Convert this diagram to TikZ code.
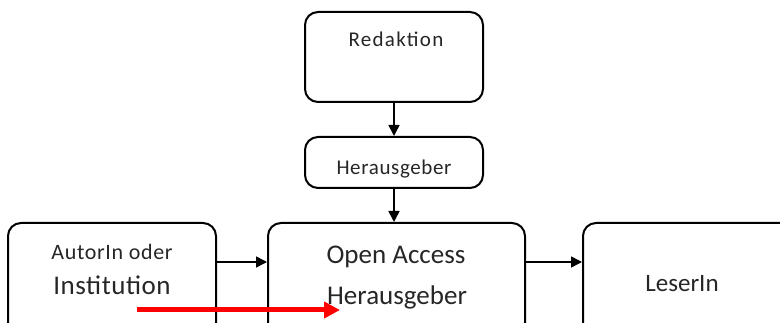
\documentclass[tikz,border=0pt]{standalone}
\usepackage{fontspec}
\setmainfont{Carlito}
\usetikzlibrary{arrows.meta}
\begin{document}
\begin{tikzpicture}[x=1pt,y=-1pt,
  box/.style={draw=black,line width=2pt,rounded corners=13pt,inner sep=0pt},
  lbl/.style={anchor=base,inner sep=0pt,text=black!85},
  conn/.style={line width=1.6pt,-{Triangle[length=11pt,width=11pt]}},
  redarrow/.style={draw=red,line width=5pt,-{Triangle[length=16pt,width=16pt]}}]
\useasboundingbox (0,0) rectangle (780,323);
\clip (0,0) rectangle (780,323);
\node[box,minimum width=178pt,minimum height=90pt] (red) at (394,57) {};
\node[box,minimum width=178pt,minimum height=51pt] (her) at (394,162.5) {};
\node[box,minimum width=257pt,minimum height=130pt] (oa) at (396.5,288) {};
\node[box,minimum width=208pt,minimum height=130pt] (aut) at (112,288) {};
\node[box,minimum width=210pt,minimum height=130pt] (les) at (688,288) {};
\node[lbl,font=\fontsize{21}{24}\selectfont\addfontfeatures{LetterSpace=6}] (tred) at (396,47) {Redaktion};
\node[lbl,font=\fontsize{21}{24}\selectfont\addfontfeatures{LetterSpace=3}] (ther) at (394,175) {Herausgeber};
\node[lbl,font=\fontsize{22}{24}\selectfont\addfontfeatures{LetterSpace=3}] (taut1) at (112,260) {AutorIn oder};
\node[lbl,font=\fontsize{27}{30}\selectfont\addfontfeatures{LetterSpace=2}] (taut2) at (112,295) {Institution};
\node[lbl,font=\fontsize{27}{30}\selectfont] (toa1) at (396,264) {Open Access};
\node[lbl,font=\fontsize{27}{30}\selectfont] (toa2) at (397,305) {Herausgeber};
\node[lbl,font=\fontsize{25}{28}\selectfont] (tles) at (682,292) {LeserIn};
\draw[conn] (red.south) -- (her.north);
\draw[conn] (her.south) -- (her.south |- oa.north);
\draw[conn] (aut.east |- 0,262) -- (oa.west |- 0,262);
\draw[conn] (oa.east |- 0,262) -- (les.west |- 0,262);
\coordinate (rs) at (137,310);
\coordinate (re) at (340,310);
\draw[redarrow] (rs) -- (re);
\end{tikzpicture}
\end{document}
